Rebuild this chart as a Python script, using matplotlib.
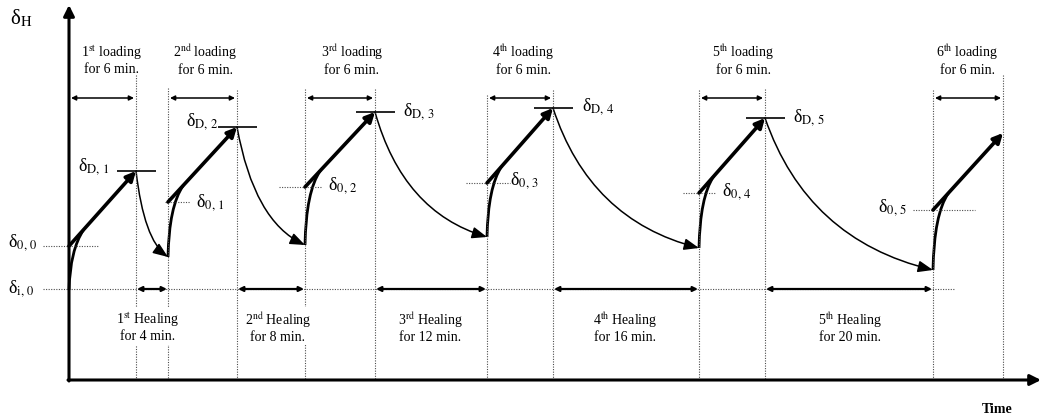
import matplotlib.pyplot as plt
from matplotlib.patches import FancyArrowPatch, PathPatch, ArrowStyle
from matplotlib.path import Path

plt.rcParams['font.family'] = ['Liberation Serif', 'DejaVu Serif']
plt.rcParams['mathtext.fontset'] = 'stix'

# schematic positions (y grows downward)
load_start = [69, 168, 305, 487, 699, 933]
load_end = [136, 237, 375, 553, 765, 1003]
y_base = [290, 257, 245, 237, 248, 270]
y_zero = [246, 202, 187, 183, 193, 210]
y_peak = [171, 127, 112, 108, 118, 133]
ordinals = ['1$^{\\mathrm{st}}$', '2$^{\\mathrm{nd}}$', '3$^{\\mathrm{rd}}$',
            '4$^{\\mathrm{th}}$', '5$^{\\mathrm{th}}$', '6$^{\\mathrm{th}}$']
load_minutes = 6
heal_minutes = [4, 8, 12, 16, 20]

start_line_top = [None, 88, 89, 95, 90, 90]
end_line_top = [75, 90, 89, 90, 89, 75]
load_label_x = [112, 205, 352, 523, 743, 967]
heal_label_x = [148, 278, 430, 625, 850]
zero_line_x = [(43, 98), (165, 190), (279, 322), (466, 510), (683, 715), (913, 975)]
zero_label_xy = [(8, 243), (196, 203), (328, 186), (510, 181), (722, 192), (878, 208)]
peak_label_xy = [(78, 167), (186, 122), (403, 112), (582, 107), (793, 118)]

fig = plt.figure(figsize=(10.41, 4.19), dpi=100)
ax = fig.add_axes([0, 0, 1, 1])
ax.set_xlim(0, 1041)
ax.set_ylim(419, 0)
ax.axis('off')

axis_x, axis_y = 69, 380
heal_y, span_y = 289, 98
dot = dict(colors='0.3', lw=0.8, linestyles=(0, (1, 1.3)))


def arrow(p0, p1, style='-|>', lw=1.0, ms=10):
    ax.annotate('', xy=p1, xytext=p0,
                arrowprops=dict(arrowstyle=style, lw=lw, color='k',
                                mutation_scale=ms, shrinkA=0, shrinkB=0))


def delta(sub):
    return 'δ$_{\\mathrm{%s}}$' % sub


# axes
arrow((axis_x, axis_y + 1), (axis_x, 5), lw=2.2, ms=16)
arrow((axis_x - 1, axis_y), (1041, axis_y), lw=2.2, ms=16)
ax.text(10, 18, delta('H'), fontsize=15, va='center')
ax.text(997, 409, 'Time', fontsize=10, fontweight='bold', ha='center', va='center')

# dotted guide lines
for i in range(6):
    if start_line_top[i] is not None:
        ax.vlines(load_start[i], start_line_top[i], axis_y, **dot)
    ax.vlines(load_end[i], end_line_top[i], axis_y, **dot)
    ax.hlines(y_zero[i], *zero_line_x[i], **dot)
ax.hlines(heal_y, 43, 955, **dot)

# loading cycles
for i in range(6):
    x0, x1 = load_start[i], load_end[i]
    ax.text(load_label_x[i], 60, ordinals[i] + ' loading\nfor %d min.' % load_minutes,
            fontsize=10, ha='center', va='center', linespacing=1.15)
    arrow((x0 + 2, span_y), (x1 - 2, span_y), style='<|-|>', lw=1.1, ms=7)
    arrow((x0, y_zero[i]), (x1, y_peak[i]), lw=2.6, ms=14)
    xm = x0 + 0.22 * (x1 - x0)
    ym = y_zero[i] + 0.22 * (y_peak[i] - y_zero[i])
    rise = Path([(x0, y_base[i]), (x0 + 1, y_zero[i] + 4), (xm, ym)],
                [Path.MOVETO, Path.CURVE3, Path.CURVE3])
    ax.add_patch(PathPatch(rise, fill=False, lw=2.0, color='k'))
    ax.text(zero_label_xy[i][0], zero_label_xy[i][1], delta('0,\\,%d' % i),
            fontsize=13, va='center')

# healing periods
for i in range(5):
    xp, xb = load_end[i], load_start[i + 1]
    yp, yb = y_peak[i], y_base[i + 1]
    ax.hlines(yp, xp - 19, xp + 20, colors='k', lw=1.2)
    ax.text(peak_label_xy[i][0], peak_label_xy[i][1], delta('D,\\,%d' % (i + 1)),
            fontsize=13, va='center')
    decay = Path([(xp, yp), (xp + 0.25 * (xb - xp), yb - 0.2 * (yb - yp)), (xb, yb)],
                 [Path.MOVETO, Path.CURVE3, Path.CURVE3])
    ax.add_patch(FancyArrowPatch(path=decay, lw=1.1, color='k', mutation_scale=10,
                                 arrowstyle=ArrowStyle('-|>', head_length=0.9, head_width=0.35)))
    arrow((xp + 1, heal_y), (xb - 1, heal_y), style='<|-|>', lw=1.6, ms=7)
    ax.text(heal_label_x[i], 327, ordinals[i] + ' Healing\nfor %d min.' % heal_minutes[i],
            fontsize=10, ha='center', va='center', linespacing=1.15,
            bbox=dict(fc='white', ec='none', pad=1))

ax.text(8, 289, delta('i,\\,0'), fontsize=13, va='center')

fig.savefig('out.png', dpi=100)
